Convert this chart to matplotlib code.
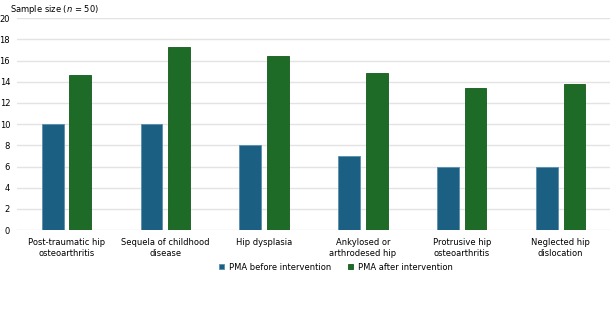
import numpy as np
import matplotlib.pyplot as plt

categories = ["Post-traumatic hip\nosteoarthritis", "Sequela of childhood\ndisease", "Hip dysplasia",
              "Ankylosed or\narthrodesed hip", "Protrusive hip\nosteoarthritis", "Neglected hip\ndislocation"]
before = [10, 10, 8, 7, 6, 6]
after = [14.6, 17.3, 16.4, 14.8, 13.4, 13.8]

plt.rcParams['font.family'] = ['Verdana', 'DejaVu Sans']
plt.rcParams['font.size'] = 6

fig = plt.figure(figsize=(6.1, 3.35), dpi=100)
ax = fig.add_axes([0.028, 0.313, 0.972, 0.633])

x = np.arange(len(categories))
w = 0.22
ax.bar(x - 0.14, before, w, color="#1b5f83", edgecolor="#5a8fb0", linewidth=0.6,
       label="PMA before intervention", zorder=3)
ax.bar(x + 0.14, after, w, color="#1e6b28", edgecolor="#145a1c", linewidth=0.6,
       label="PMA after intervention", zorder=3)

ax.set_xlim(-0.5, 5.5)
ax.set_ylim(0, 20)
ax.set_yticks(range(0, 21, 2))
ax.set_xticks(x)
ax.set_xticklabels(categories, linespacing=1.25)
ax.yaxis.grid(True, color="#e3e3e3", linewidth=1)
ax.tick_params(axis="x", length=0, pad=6)
ax.tick_params(axis="y", length=0, pad=5)
for s in ax.spines.values():
    s.set_visible(False)

fig.text(0.016, 0.99, "Sample size ($\\it{n}$ = 50)", ha="left", va="top")

ax.legend(loc="center", bbox_to_anchor=(0.538, -0.175), ncol=2, frameon=False,
          handlelength=0.6, handleheight=0.6, handletextpad=0.6, columnspacing=2.0)

fig.savefig("out.png", dpi=100)
